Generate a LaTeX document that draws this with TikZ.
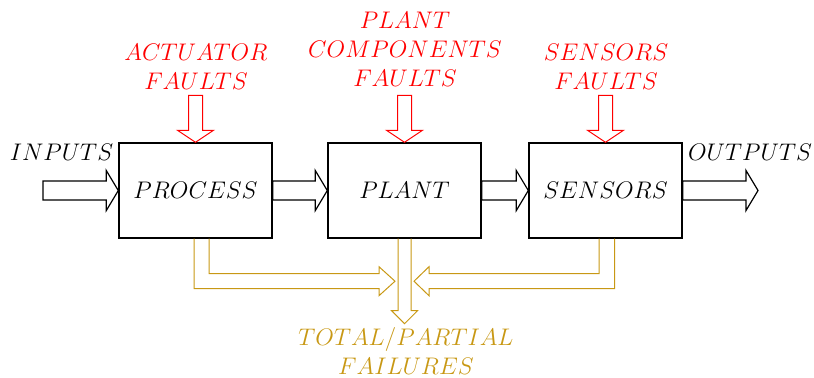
\documentclass[tikz,border=0pt]{standalone}
\usetikzlibrary{calc}
\definecolor{gold}{RGB}{200,152,20}
\definecolor{fred}{RGB}{255,0,0}
\begin{document}
\begin{tikzpicture}[x=0.5pt,y=-0.5pt,
  every node/.style={font=\fontsize{12.5}{14.5}\selectfont},
  blk/.style={draw=black,line width=0.7pt,fill=white,minimum width=76.5pt,minimum height=47.5pt,inner sep=0pt},
  barrow/.style={draw=black,line width=0.6pt,fill=white,line join=miter},
  rarrow/.style={draw=fred,line width=0.5pt,fill=white},
  garrow/.style={draw=gold,line width=0.5pt},
  lbl/.style={inner sep=0pt,align=center},
  redlbl/.style={lbl,text=fred},
  goldlbl/.style={lbl,text=gold}]
\useasboundingbox (0,0) rectangle (814,377);

\node[blk] (proc) at (195.5,190.5) {$PROCESS$};
\node[blk] (plant) at (404.5,190.5) {$PLANT$};
\node[blk] (sens) at (605.5,190.5) {$SENSORS$};

\coordinate (in) at (43,190.5);
\coordinate (out) at (758,190.5);

% horizontal block arrows
\newcommand{\blkarrowR}[2]{%
  \draw[barrow] ($(#1)+(0,-9.5)$) -- ($(#2)+(-12,-9.5)$) -- ($(#2)+(-12,-20)$) -- (#2)
    -- ($(#2)+(-12,20)$) -- ($(#2)+(-12,9.5)$) -- ($(#1)+(0,9.5)$) -- cycle;}
\blkarrowR{in}{proc.west}
\blkarrowR{proc.east}{plant.west}
\blkarrowR{plant.east}{sens.west}
\blkarrowR{sens.east}{out}

\node[lbl] (inputs) at (61.5,152) {$INPUTS$};
\node[lbl] (outputs) at (750,152) {$OUTPUTS$};

% red fault labels and arrows
\node[redlbl] (fa) at (196,67) {$ACTUATOR$\\$FAULTS$};
\node[redlbl] (fp) at (405,49) {$PLANT$\\$COMPONENTS$\\$FAULTS$};
\node[redlbl] (fs) at (606,67) {$SENSORS$\\$FAULTS$};

\newcommand{\redarrowD}[1]{%
  \draw[rarrow] ($(#1)+(-7,-47)$) -- ($(#1)+(-7,-12)$) -- ($(#1)+(-18,-12)$) -- (#1)
    -- ($(#1)+(18,-12)$) -- ($(#1)+(7,-12)$) -- ($(#1)+(7,-47)$) -- cycle;}
\redarrowD{proc.north}
\redarrowD{plant.north}
\redarrowD{sens.north}

% gold failure arrows
\coordinate (jl) at ($(plant.south)+(-9.5,42.5)$);
\coordinate (jr) at ($(plant.south)+(9.5,42.5)$);
\coordinate (jd) at ($(plant.south)+(0,85)$);
% left L
\draw[garrow] ($(proc.south)+(-1.5,0)$) |- ($(jl)+(-16,7.5)$) -- ($(jl)+(-16,14.5)$) -- (jl)
  -- ($(jl)+(-16,-14.5)$) -- ($(jl)+(-16,-7.5)$) -| ($(proc.south)+(13.5,0)$);
% right L
\draw[garrow] ($(sens.south)+(9,0)$) |- ($(jr)+(15,7.5)$) -- ($(jr)+(15,14.5)$) -- (jr)
  -- ($(jr)+(15,-14.5)$) -- ($(jr)+(15,-7.5)$) -| ($(sens.south)+(-6.5,0)$);
% centre down arrow
\draw[garrow] ($(plant.south)+(-6.5,0)$) -- ($(jd)+(-6.5,-13)$) -- ($(jd)+(-13,-13)$) -- (jd)
  -- ($(jd)+(13,-13)$) -- ($(jd)+(6.5,-13)$) -- ($(plant.south)+(6.5,0)$);

\node[goldlbl] (fail) at (406,351) {$TOTAL/PARTIAL$\\$FAILURES$};
\end{tikzpicture}
\end{document}
